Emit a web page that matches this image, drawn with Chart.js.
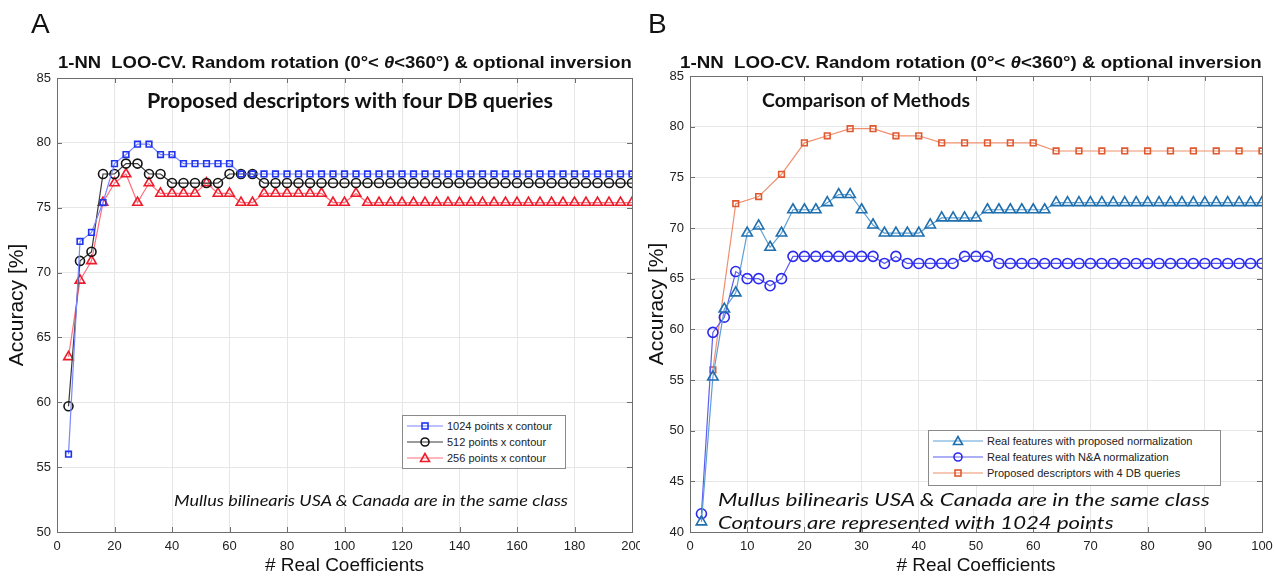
<!DOCTYPE html>
<html>
<head>
<meta charset="utf-8">
<script src="https://cdn.jsdelivr.net/npm/chart.js@4.4.1/dist/chart.umd.min.js"></script>
<style>
  html, body { margin: 0; padding: 0; background: #fff; }
  #wrap { position: relative; width: 1274px; height: 577px; overflow: hidden; font-family: "Liberation Sans", Arial, sans-serif; }
  canvas { position: absolute; top: 0; }
  .txt { position: absolute; white-space: nowrap; line-height: 1; transform-origin: left top; color: #111; }
  .letter { font-size: 28px; }
  .head { font-family: "Liberation Sans Narrow", "Liberation Sans", sans-serif; font-weight: bold; font-size: 17px; }
  .ptitle { font-family: Lato, "Open Sans", sans-serif; font-weight: bold; font-size: 21px; }
  .note { font-family: Lato, "Open Sans", sans-serif; font-style: italic; }
  .legend { position: absolute; background: #fff; border: 1px solid #8a8a8a; font-size: 11px; color: #222; }
  .legend .row { display: flex; align-items: center; height: 16px; }
  .legend svg { margin: 0 4px 0 4px; }
</style>
</head>
<body>
<div id="wrap">
  <canvas id="chartA" width="640" height="577" style="left:0"></canvas>
  <canvas id="chartB" width="634" height="577" style="left:640px"></canvas>

  <div class="txt letter" style="left:31px;top:10px">A</div>
  <div class="txt letter" style="left:648px;top:10px">B</div>

  <div class="txt head" data-w="574" style="left:58px;top:54px">1-NN&nbsp; LOO-CV. Random rotation (0°&lt; <i>θ</i>&lt;360°) &amp; optional inversion</div>
  <div class="txt head" data-w="582" style="left:680px;top:54px">1-NN&nbsp; LOO-CV. Random rotation (0°&lt; <i>θ</i>&lt;360°) &amp; optional inversion</div>

  <div class="txt ptitle" id="titleA" data-w="406" style="left:147px;top:89px">Proposed descriptors with four DB queries</div>
  <div class="txt ptitle" id="titleB" style="left:772px;top:90px;font-size:19px">Comparison of Methods</div>

  <div class="txt note" data-w="394" style="left:174px;top:492px;font-size:16px">Mullus bilinearis USA &amp; Canada are in the same class</div>
  <div class="txt note" data-w="492" style="left:718px;top:490px;font-size:18px">Mullus bilinearis USA &amp; Canada are in the same class</div>
  <div class="txt note" data-w="395" style="left:718px;top:513px;font-size:18px">Contours are represented with 1024 points</div>

  <div class="legend" id="legA" style="left:402px;top:415px;width:162px;height:50px;padding-top:2px"></div>
  <div class="legend" id="legB" style="left:928px;top:430px;width:291px;height:52px;padding-top:2px"></div>
</div>

<script>
// panel A: x = number of real coefficients
const xA = [4, 8, 12, 16, 20, 24, 28, 32, 36, 40, 44, 48, 52, 56, 60, 64, 68, 72, 76, 80,
  84, 88, 92, 96, 100, 104, 108, 112, 116, 120, 124, 128, 132, 136, 140, 144, 148, 152, 156, 160,
  164, 168, 172, 176, 180, 184, 188, 192, 196, 200];
const pts1024 = [56.0, 72.4, 73.1, 75.4, 78.4, 79.1, 79.9, 79.9, 79.1, 79.1, 78.4, 78.4, 78.4, 78.4, 78.4, 77.6, 77.6,
  77.6, 77.6, 77.6, 77.6, 77.6, 77.6, 77.6, 77.6, 77.6, 77.6, 77.6,
  77.6, 77.6, 77.6, 77.6, 77.6, 77.6, 77.6, 77.6, 77.6, 77.6, 77.6,
  77.6, 77.6, 77.6, 77.6, 77.6, 77.6, 77.6, 77.6, 77.6, 77.6, 77.6];
const pts512 = [59.7, 70.9, 71.6, 77.6, 77.6, 78.4, 78.4, 77.6, 77.6, 76.9, 76.9, 76.9, 76.9, 76.9, 77.6, 77.6, 77.6,
  76.9, 76.9, 76.9, 76.9, 76.9, 76.9, 76.9, 76.9, 76.9, 76.9, 76.9,
  76.9, 76.9, 76.9, 76.9, 76.9, 76.9, 76.9, 76.9, 76.9, 76.9, 76.9,
  76.9, 76.9, 76.9, 76.9, 76.9, 76.9, 76.9, 76.9, 76.9, 76.9, 76.9];
const pts256 = [63.5, 69.4, 70.9, 75.4, 76.9, 77.6, 75.4, 76.9, 76.1, 76.1, 76.1, 76.1, 76.9, 76.1, 76.1, 75.4, 75.4,
  76.1, 76.1, 76.1, 76.1, 76.1, 76.1, 75.4, 75.4, 76.1,
  75.4, 75.4, 75.4, 75.4, 75.4, 75.4, 75.4, 75.4, 75.4, 75.4, 75.4, 75.4,
  75.4, 75.4, 75.4, 75.4, 75.4, 75.4, 75.4, 75.4, 75.4, 75.4, 75.4, 75.4];

// panel B
const xB = [2, 4, 6, 8, 10, 12, 14, 16, 18, 20, 22, 24, 26, 28, 30, 32, 34, 36, 38, 40,
  42, 44, 46, 48, 50, 52, 54, 56, 58, 60, 62, 64, 66, 68, 70, 72, 74, 76, 78, 80,
  82, 84, 86, 88, 90, 92, 94, 96, 98, 100];
const realProposed = [41.0, 55.3, 62.0, 63.6, 69.5, 70.2, 68.1, 69.5, 71.8, 71.8, 71.8, 72.5, 73.3, 73.3, 71.8, 70.3,
  69.5, 69.5, 69.5, 69.5, 70.3, 71.0, 71.0, 71.0, 71.0, 71.8, 71.8, 71.8, 71.8, 71.8, 71.8,
  72.5, 72.5, 72.5, 72.5, 72.5, 72.5, 72.5, 72.5, 72.5, 72.5,
  72.5, 72.5, 72.5, 72.5, 72.5, 72.5, 72.5, 72.5, 72.5];
const realNA = [41.8, 59.7, 61.2, 65.7, 65.0, 65.0, 64.3, 65.0, 67.2,
  67.2, 67.2, 67.2, 67.2, 67.2, 67.2, 67.2, 66.5, 67.2, 66.5, 66.5, 66.5, 66.5, 66.5, 67.2, 67.2, 67.2,
  66.5, 66.5, 66.5, 66.5, 66.5, 66.5, 66.5, 66.5, 66.5, 66.5, 66.5, 66.5,
  66.5, 66.5, 66.5, 66.5, 66.5, 66.5, 66.5, 66.5, 66.5, 66.5, 66.5, 66.5];
const xB4 = [4, 8, 12, 16, 20, 24, 28, 32, 36, 40, 44, 48, 52, 56, 60, 64, 68, 72, 76, 80, 84, 88, 92, 96, 100];
const proposed4DB = [56.0, 72.4, 73.1, 75.3, 78.4, 79.1, 79.8, 79.8, 79.1, 79.1, 78.4, 78.4, 78.4, 78.4, 78.4,
  77.6, 77.6, 77.6, 77.6, 77.6, 77.6, 77.6, 77.6, 77.6, 77.6];

const labelsA = ['1024 points x contour', '512 points x contour', '256 points x contour'];
const labelsB = ['Real features with proposed normalization', 'Real features with N&A normalization', 'Proposed descriptors with 4 DB queries'];

const zip = (xs, ys) => xs.map((x, i) => ({ x, y: ys[i] }));

function series(label, data, line, mark, style, r) {
    return {
        label, data,
        borderColor: line, borderWidth: 1.2,
        pointStyle: style, pointRadius: r, pointHoverRadius: r,
        pointBorderColor: mark, pointBackgroundColor: 'rgba(0,0,0,0)', pointBorderWidth: 1.6,
        tension: 0,
    };
}

// box around the plot with small inward ticks, like the original figure
const boxPlugin = {
    id: 'box',
    afterDraw(chart) {
        const { ctx, chartArea: a, scales } = chart;
        ctx.save();
        ctx.strokeStyle = '#6e6e6e';
        ctx.lineWidth = 1;
        ctx.strokeRect(a.left + 0.5, a.top + 0.5, a.right - a.left, a.bottom - a.top);
        ctx.beginPath();
        scales.x.ticks.forEach(t => {
            const px = Math.round(scales.x.getPixelForValue(t.value)) + 0.5;
            ctx.moveTo(px, a.bottom); ctx.lineTo(px, a.bottom - 5);
            ctx.moveTo(px, a.top); ctx.lineTo(px, a.top + 5);
        });
        scales.y.ticks.forEach(t => {
            const py = Math.round(scales.y.getPixelForValue(t.value)) + 0.5;
            ctx.moveTo(a.left, py); ctx.lineTo(a.left + 5, py);
            ctx.moveTo(a.right, py); ctx.lineTo(a.right - 5, py);
        });
        ctx.stroke();
        ctx.restore();
    }
};

function makeOpts(xMax, xStep, yMin, yMax, yWidth, padRight, padTop) {
    const tickFont = { family: '"Liberation Sans", Arial, sans-serif', size: 13 };
    return {
        responsive: false,
        animation: false,
        layout: { padding: { left: 0, right: padRight, top: padTop, bottom: 0 } },
        plugins: { legend: { display: false }, title: { display: false }, tooltip: { enabled: false } },
        scales: {
            x: {
                type: 'linear', min: 0, max: xMax,
                ticks: { stepSize: xStep, color: '#222', font: tickFont, padding: 7, maxRotation: 0 },
                grid: { color: '#e6e6e6', drawTicks: false },
                border: { display: false },
                title: { display: true, text: '# Real Coefficients', color: '#111', font: { family: '"Liberation Sans", Arial, sans-serif', size: 19 }, padding: { top: 0, bottom: 0 } },
                afterFit(s) { s.height = 45; s.paddingLeft = 0; s.paddingRight = 0; }
            },
            y: {
                min: yMin, max: yMax,
                ticks: { stepSize: 5, color: '#222', font: tickFont, padding: 6 },
                grid: { color: '#e6e6e6', drawTicks: false },
                border: { display: false },
                title: { display: true, text: 'Accuracy [%]', color: '#111', font: { family: '"Liberation Sans", Arial, sans-serif', size: 21 }, padding: { top: 5, bottom: 0 } },
                afterFit(s) { s.width = yWidth; s.paddingTop = 0; s.paddingBottom = 0; }
            }
        }
    };
}

new Chart(document.getElementById('chartA'), {
    type: 'line',
    data: {
        datasets: [
            series(labelsA[0], zip(xA, pts1024), '#7a86ff', '#1f35f0', 'rect', 4),
            series(labelsA[1], zip(xA, pts512), '#3a3a3a', '#151515', 'circle', 4.5),
            series(labelsA[2], zip(xA, pts256), '#ff6f7d', '#ee1b2b', 'triangle', 5.5),
        ]
    },
    options: makeOpts(200, 20, 50, 85, 57, 8, 78),
    plugins: [boxPlugin]
});

new Chart(document.getElementById('chartB'), {
    type: 'line',
    data: {
        datasets: [
            series(labelsB[0], zip(xB, realProposed), '#5d9fd3', '#1f6fae', 'triangle', 6),
            series(labelsB[1], zip(xB, realNA), '#5c5cf2', '#2a2aee', 'circle', 5),
            series(labelsB[2], zip(xB4, proposed4DB), '#ef8f6f', '#de5a30', 'rect', 4),
        ]
    },
    options: makeOpts(100, 10, 40, 85, 50, 12, 76),
    plugins: [boxPlugin]
});

function sample(line, mark, shape, w) {
    const c = w / 2;
    let m = '';
    if (shape === 'rect') m = `<rect x="${c - 3}" y="3" width="6" height="6" fill="none" stroke="${mark}" stroke-width="1.6"/>`;
    if (shape === 'circle') m = `<circle cx="${c}" cy="6" r="4" fill="none" stroke="${mark}" stroke-width="1.6"/>`;
    if (shape === 'triangle') m = `<polygon points="${c},1.5 ${c - 4.5},9.5 ${c + 4.5},9.5" fill="none" stroke="${mark}" stroke-width="1.6"/>`;
    return `<svg width="${w}" height="12"><line x1="0" y1="6" x2="${w}" y2="6" stroke="${line}" stroke-width="1.2"/>${m}</svg>`;
}

function legend(id, items, w) {
    document.getElementById(id).innerHTML = items.map(it =>
        `<div class="row">${sample(it[1], it[2], it[3], w)}<span>${it[0]}</span></div>`).join('');
}

legend('legA', [
    [labelsA[0], '#7a86ff', '#1f35f0', 'rect'],
    [labelsA[1], '#3a3a3a', '#151515', 'circle'],
    [labelsA[2], '#ff6f7d', '#ee1b2b', 'triangle'],
], 36);
legend('legB', [
    [labelsB[0], '#5d9fd3', '#1f6fae', 'triangle'],
    [labelsB[1], '#5c5cf2', '#2a2aee', 'circle'],
    [labelsB[2], '#ef8f6f', '#de5a30', 'rect'],
], 50);

// stretch the overlay texts to the widths they have in the figure
document.querySelectorAll('.txt[data-w]').forEach(el => {
    const k = Number(el.dataset.w) / el.offsetWidth;
    el.style.transform = `scaleX(${k})`;
});
// the second plot title uses the same squeeze as the first, centred on its plot
const kA = 406 / document.getElementById('titleA').offsetWidth;
const tB = document.getElementById('titleB');
tB.style.transform = `scaleX(${kA})`;
tB.style.left = (866 - tB.offsetWidth * kA / 2) + 'px';
</script>
</body>
</html>
